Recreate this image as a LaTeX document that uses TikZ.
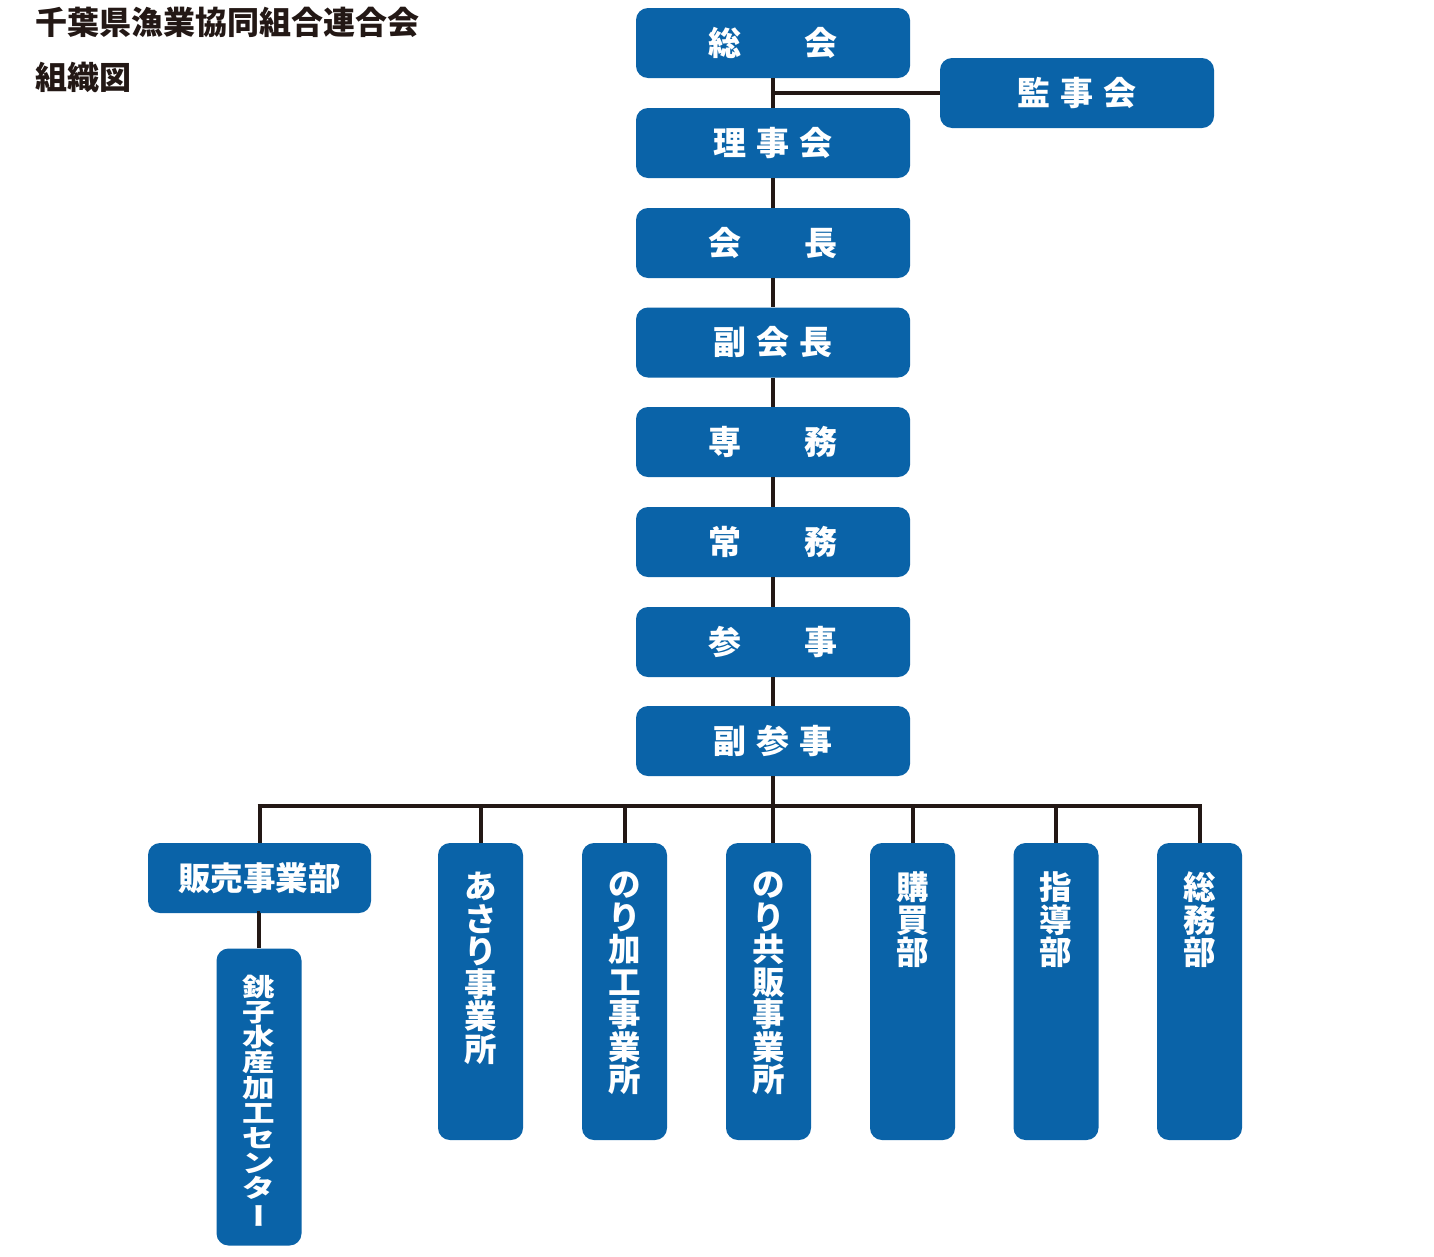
\documentclass[tikz,border=0pt]{standalone}
\usepackage{fontspec}
\newfontfamily\cjk{Noto Sans CJK JP}
\definecolor{boxblue}{HTML}{0A63A8}
\definecolor{linecol}{HTML}{231815}
\newcommand{\vstack}[1]{\vtop{\baselineskip=32.5pt\lineskiplimit=-100pt\halign{\hfil##\hfil\cr#1\crcr}}}
\newcommand{\vbar}{\kern10pt\rotatebox[origin=c]{90}{ー}}
\tikzset{
  box/.style={fill=boxblue, draw=none, rounded corners=12pt, inner sep=0pt, text=white},
  hbox/.style={box, minimum width=274pt, minimum height=70pt, font=\cjk\bfseries\fontsize{33}{33}\selectfont},
  sbox/.style={box, minimum width=223pt, minimum height=70pt, font=\cjk\bfseries\fontsize{32.5}{32.5}\selectfont},
  vbox/.style={box, minimum width=85pt, minimum height=297pt},
  vtext/.style={anchor=north, inner sep=0pt, text=white, font=\cjk\bfseries\fontsize{32.5}{32.5}\selectfont},
  conn/.style={draw=linecol, line width=4pt},
  title/.style={anchor=west, inner sep=0pt, text=linecol, font=\cjk\bfseries\fontsize{32}{32}\selectfont}
}
\begin{document}
\begin{tikzpicture}[x=1pt,y=-1pt]
\useasboundingbox[fill=white] (0,0) rectangle (1434,1256);
\node[title] (t1) at (35,22.5) {千葉県漁業協同組合連合会};
\node[title] (t2) at (35,77.5) {組織図};

\node[hbox] (sokai) at (773,43) {総\hspace{64pt}会};
\node[hbox] (kanji) at (1077,93) {監\hspace{10pt}事\hspace{10pt}会};
\node[hbox] (riji) at (773,143) {理\hspace{10pt}事\hspace{10pt}会};
\node[hbox] (kaicho) at (773,243) {会\hspace{64pt}長};
\node[hbox] (fukukaicho) at (773,342.5) {副\hspace{10pt}会\hspace{10pt}長};
\node[hbox] (senmu) at (773,442) {専\hspace{64pt}務};
\node[hbox] (jomu) at (773,542) {常\hspace{64pt}務};
\node[hbox] (sanji) at (773,642) {参\hspace{64pt}事};
\node[hbox] (fukusanji) at (773,741) {副\hspace{10pt}参\hspace{10pt}事};

\node[sbox] (hanbai) at (259.5,878) {販売事業部};
\node[vbox] (choshi) at (259,1097) {};
\node[vbox] (asari) at (480.5,991.5) {};
\node[vbox] (norikako) at (624.5,991.5) {};
\node[vbox] (kyohan) at (768.5,991.5) {};
\node[vbox] (kobai) at (912.5,991.5) {};
\node[vbox] (shido) at (1056,991.5) {};
\node[vbox] (somu) at (1199.5,991.5) {};

\node[vtext] (choshiT) at ([yshift=-27pt]choshi.north) {\scalebox{1}[0.77]{\vstack{銚\cr 子\cr 水\cr 産\cr 加\cr 工\cr セ\cr ン\cr タ\cr \vbar}}};
\node[vtext] (asariT) at ([yshift=-29pt]asari.north) {\vstack{あ\cr さ\cr り\cr 事\cr 業\cr 所}};
\node[vtext] (norikakoT) at ([yshift=-29pt]norikako.north) {\vstack{の\cr り\cr 加\cr 工\cr 事\cr 業\cr 所}};
\node[vtext] (kyohanT) at ([yshift=-29pt]kyohan.north) {\vstack{の\cr り\cr 共\cr 販\cr 事\cr 業\cr 所}};
\node[vtext] (kobaiT) at ([yshift=-29pt]kobai.north) {\vstack{購\cr 買\cr 部}};
\node[vtext] (shidoT) at ([yshift=-29pt]shido.north) {\vstack{指\cr 導\cr 部}};
\node[vtext] (somuT) at ([yshift=-29pt]somu.north) {\vstack{総\cr 務\cr 部}};

\coordinate (bus) at (773,806);
\draw[conn] (sokai.south) -- (riji.north);
\draw[conn] (kanji.west -| sokai.south) -- (kanji.west);
\draw[conn] (riji.south) -- (kaicho.north);
\draw[conn] (kaicho.south) -- (fukukaicho.north);
\draw[conn] (fukukaicho.south) -- (senmu.north);
\draw[conn] (senmu.south) -- (jomu.north);
\draw[conn] (jomu.south) -- (sanji.north);
\draw[conn] (sanji.south) -- (fukusanji.north);
\draw[conn] (fukusanji.south) -- (fukusanji.south |- kyohan.north);
\draw[conn] ([xshift=-2pt]hanbai.north |- bus) -- ([xshift=2pt]somu.north |- bus);
\draw[conn] (hanbai.north |- bus) -- (hanbai.north);
\draw[conn] (asari.north |- bus) -- (asari.north);
\draw[conn] (norikako.north |- bus) -- (norikako.north);
\draw[conn] (kobai.north |- bus) -- (kobai.north);
\draw[conn] (shido.north |- bus) -- (shido.north);
\draw[conn] (somu.north |- bus) -- (somu.north);
\draw[conn] (hanbai.south) -- (hanbai.south -| choshi.north) -- (choshi.north);
\end{tikzpicture}
\end{document}
